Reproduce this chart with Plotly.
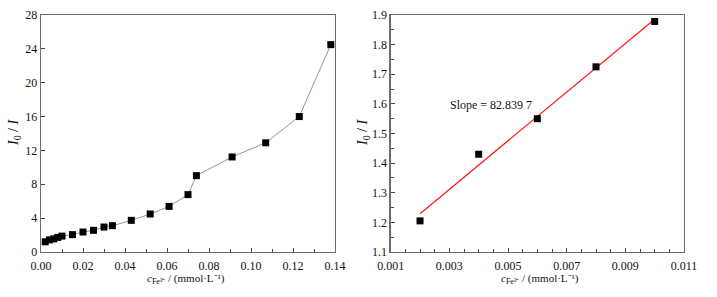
import numpy as np
import plotly.graph_objects as go

# Left panel: full concentration range
conc_all = [0.002, 0.004, 0.006, 0.008, 0.010, 0.015, 0.020, 0.025, 0.030, 0.034,
            0.043, 0.052, 0.061, 0.070, 0.074, 0.091, 0.107, 0.123, 0.138]
ratio_all = [1.205, 1.43, 1.55, 1.725, 1.878, 2.05, 2.36, 2.56, 2.95, 3.11,
             3.74, 4.49, 5.39, 6.78, 9.02, 11.23, 12.9, 16.0, 24.5]

# Right panel: linear range
conc_lin = [0.002, 0.004, 0.006, 0.008, 0.010]
ratio_lin = [1.205, 1.43, 1.55, 1.725, 1.878]
slope_label = "Slope = 82.839 7"

left_xticks = [0.00, 0.02, 0.04, 0.06, 0.08, 0.10, 0.12, 0.14]
left_yticks = [0, 4, 8, 12, 16, 20, 24, 28]
right_xticks = [0.001, 0.003, 0.005, 0.007, 0.009, 0.011]
right_yticks = [1.1, 1.2, 1.3, 1.4, 1.5, 1.6, 1.7, 1.8, 1.9]

FONT = "Liberation Serif"
FRAME = "#6e6e6e"
W, H = 717, 297
ML, MR, MT, MB = 41, 33, 15, 45

k, b = np.polyfit(conc_lin, ratio_lin, 1)
fit_x = [conc_lin[0], conc_lin[-1]]
fit_y = [k * v + b for v in fit_x]

fig = go.Figure()
fig.add_trace(go.Scatter(x=conc_all, y=ratio_all, mode="lines+markers",
                         line=dict(color="#7a7a7a", width=0.8),
                         marker=dict(symbol="square", size=7, color="black"),
                         xaxis="x", yaxis="y", showlegend=False, cliponaxis=False))
fig.add_trace(go.Scatter(x=fit_x, y=fit_y, mode="lines",
                         line=dict(color="#ff1a1a", width=1.3),
                         xaxis="x2", yaxis="y2", showlegend=False))
fig.add_trace(go.Scatter(x=conc_lin, y=ratio_lin, mode="markers",
                         marker=dict(symbol="square", size=7, color="black"),
                         xaxis="x2", yaxis="y2", showlegend=False, cliponaxis=False))

def ax(**kw):
    d = dict(showline=True, linecolor=FRAME, linewidth=1.3, mirror=True,
             ticks="inside", ticklen=4, tickcolor="#444", tickwidth=1,
             showgrid=False, zeroline=False, automargin=False,
             tickfont=dict(family=FONT, size=12, color="#111"))
    d.update(kw)
    return d

xtitle = ("<i>c</i><sub><span style='font-size:8px'>Fe³⁺</span></sub>"
          " / (mmol·L⁻¹)")
ytitle = "<i>I</i><sub>0</sub> / <i>I</i>"

pw = W - ML - MR
dom_l = [0, (335 - ML) / pw]
dom_r = [(390.7 - ML) / pw, 1]

def px_x(p):
    return (p - ML) / pw

def px_y(p):
    return (H - MB - p) / (H - MT - MB)

fig.update_layout(
    width=W, height=H,
    margin=dict(l=ML, r=MR, t=MT, b=MB),
    paper_bgcolor="white", plot_bgcolor="white",
    font=dict(family=FONT, size=12, color="#111"),
    hovermode=False,
    xaxis=ax(domain=dom_l, range=[0, 0.14], tickvals=left_xticks,
             ticktext=[f"{v:.2f}" for v in left_xticks], ticklabelstandoff=2,
             minor=dict(ticks="inside", dtick=0.01, ticklen=3, tickcolor="#444")),
    yaxis=ax(range=[0, 28], tickvals=left_yticks),
    xaxis2=ax(domain=dom_r, range=[0.001, 0.011], anchor="y2",
              tickvals=right_xticks, ticktext=[f"{v:.3f}" for v in right_xticks],
              ticklabelstandoff=2,
              minor=dict(ticks="inside", dtick=0.0005, tick0=0.001, ticklen=3, tickcolor="#444")),
    yaxis2=ax(range=[1.1, 1.9], anchor="x2", tickvals=right_yticks,
              ticktext=[f"{v:.1f}" for v in right_yticks],
              minor=dict(ticks="inside", dtick=0.05, tick0=1.1, ticklen=3, tickcolor="#444")),
    annotations=[
        dict(x=0.00295, y=1.596, xref="x2", yref="y2", text=slope_label,
             showarrow=False, xanchor="left", yanchor="middle",
             font=dict(family=FONT, size=12, color="#111")),
        dict(x=px_x(186), y=px_y(279), xref="paper", yref="paper", text=xtitle,
             showarrow=False, xanchor="center", yanchor="middle",
             font=dict(family=FONT, size=11, color="#111")),
        dict(x=px_x(540), y=px_y(279), xref="paper", yref="paper", text=xtitle,
             showarrow=False, xanchor="center", yanchor="middle",
             font=dict(family=FONT, size=11, color="#111")),
        dict(x=px_x(14), y=px_y(133), xref="paper", yref="paper", text=ytitle,
             showarrow=False, xanchor="center", yanchor="middle", textangle=-90,
             font=dict(family=FONT, size=14, color="#111")),
        dict(x=px_x(363), y=px_y(133), xref="paper", yref="paper", text=ytitle,
             showarrow=False, xanchor="center", yanchor="middle", textangle=-90,
             font=dict(family=FONT, size=14, color="#111")),
    ],
)

fig.write_html("out.html", config={"displayModeBar": False, "staticPlot": True},
               post_script="document.body.style.margin='0';document.body.style.padding='0';")
